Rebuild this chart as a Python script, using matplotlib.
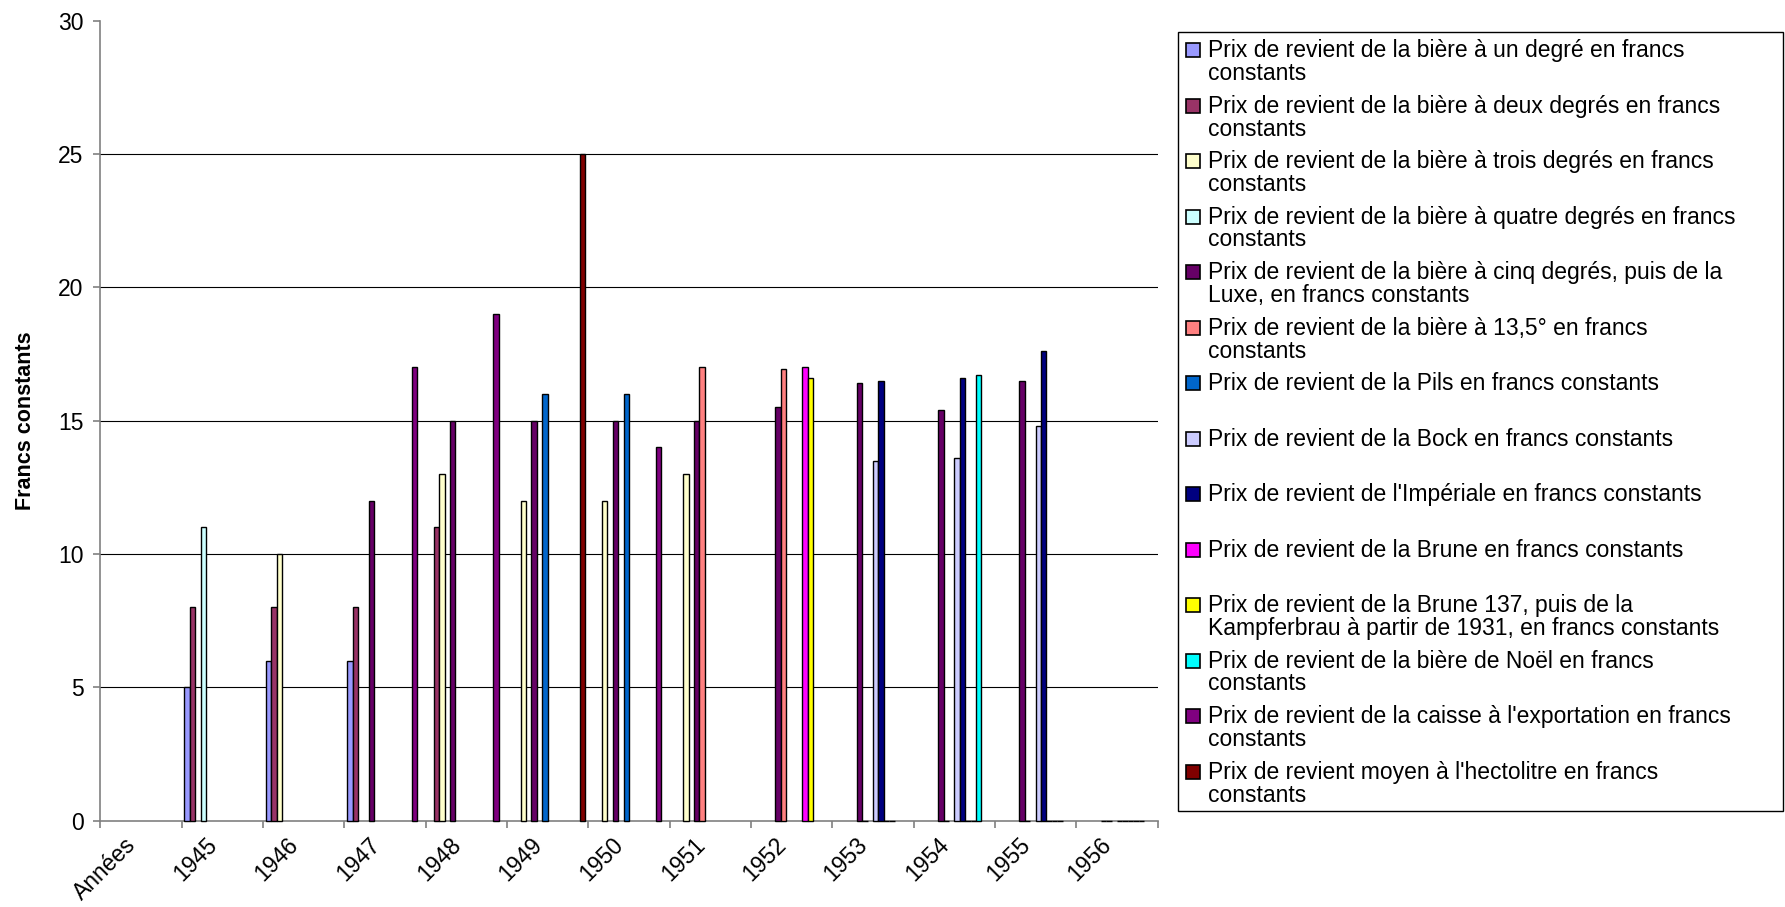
import numpy as np
import matplotlib.pyplot as plt
from matplotlib.patches import Rectangle
from matplotlib.transforms import ScaledTranslation

plt.rcParams['font.family'] = ['Liberation Sans', 'DejaVu Sans']

nan = np.nan
annees = ['Années', '1945', '1946', '1947', '1948', '1949', '1950',
          '1951', '1952', '1953', '1954', '1955', '1956']

# prix de revient en francs constants, une liste par série (nan = pas de valeur)
un_degre     = [nan, 5, 6, 6, nan, nan, nan, nan, nan, nan, nan, nan, nan]
deux_degres  = [nan, 8, 8, 8, 11, nan, nan, nan, nan, nan, nan, nan, nan]
trois_degres = [nan, nan, 10, nan, 13, 12, 12, 13, nan, nan, nan, nan, nan]
quatre_degres = [nan, 11, nan, nan, nan, nan, nan, nan, nan, nan, nan, nan, nan]
cinq_degres  = [nan, nan, nan, 12, 15, 15, 15, 15, 15.5, 16.4, 15.4, 16.5, 0]
treize_cinq  = [nan, nan, nan, nan, nan, nan, nan, 17, 16.95, 0, 0, 0, 0]
pils         = [nan, nan, nan, nan, nan, 16, 16, nan, nan, nan, nan, nan, nan]
bock         = [nan, nan, nan, nan, nan, nan, nan, nan, nan, 13.5, 13.6, 14.8, 0]
imperiale    = [nan, nan, nan, nan, nan, nan, nan, nan, nan, 16.5, 16.6, 17.6, 0]
brune        = [nan, nan, nan, nan, nan, nan, nan, nan, 17.0, 0, 0, 0, 0]
brune_137    = [nan, nan, nan, nan, nan, nan, nan, nan, 16.6, 0, 0, 0, 0]
noel         = [nan, nan, nan, nan, nan, nan, nan, nan, nan, nan, 16.7, 0, 0]
exportation  = [nan, nan, nan, 17, 19, nan, 14, nan, nan, nan, nan, nan, nan]
hectolitre   = [nan, nan, nan, nan, nan, 25, nan, nan, nan, nan, nan, nan, nan]

series = [un_degre, deux_degres, trois_degres, quatre_degres, cinq_degres,
          treize_cinq, pils, bock, imperiale, brune, brune_137, noel,
          exportation, hectolitre]

labels = [
    "Prix de revient de la bière à un degré en francs\nconstants",
    "Prix de revient de la bière à deux degrés en francs\nconstants",
    "Prix de revient de la bière à trois degrés en francs\nconstants",
    "Prix de revient de la bière à quatre degrés en francs\nconstants",
    "Prix de revient de la bière à cinq degrés, puis de la\nLuxe, en francs constants",
    "Prix de revient de la bière à 13,5° en francs\nconstants",
    "Prix de revient de la Pils en francs constants",
    "Prix de revient de la Bock en francs constants",
    "Prix de revient de l'Impériale en francs constants",
    "Prix de revient de la Brune en francs constants",
    "Prix de revient de la Brune 137, puis de la\nKampferbrau à partir de 1931, en francs constants",
    "Prix de revient de la bière de Noël en francs\nconstants",
    "Prix de revient de la caisse à l'exportation en francs\nconstants",
    "Prix de revient moyen à l'hectolitre en francs\nconstants",
]

colors = ['#9999FF', '#993366', '#FFFFCC', '#CCFFFF', '#660066', '#FF8080',
          '#0066CC', '#CCCCFF', '#000080', '#FF00FF', '#FFFF00', '#00FFFF',
          '#800080', '#800000']

W, H = 1785, 907
fig = plt.figure(figsize=(W / 100, H / 100), dpi=100)
ax = fig.add_axes([100.2 / W, 1 - 820.8 / H, 1057.5 / W, 800.3 / H])

n = len(series)
gap = 1.065
w = 1 / (n + gap)
x = np.arange(len(annees))
for j, vals in enumerate(series):
    ax.bar(x + (j - (n - 1) / 2) * w, vals, width=w, color=colors[j],
           edgecolor='black', linewidth=1.0, zorder=3, clip_on=False)

yticks = np.arange(0, 31, 5)
ax.set_ylim(0, 30)
ax.set_yticks(yticks)
for v in yticks[1:-1]:
    ax.axhline(v, color='black', lw=0.8, zorder=1)

ax.set_xlim(-0.5, len(annees) - 0.5)
ax.set_xticks(np.arange(len(annees) + 1) - 0.5)
ax.set_xticklabels([])
ax.set_xticks(x, annees, minor=True, rotation=45, ha='right', va='top',
              rotation_mode='anchor', fontsize=16.5)
ax.tick_params(axis='x', which='minor', length=0, pad=9)
ax.tick_params(axis='x', which='major', length=5, color='#808080', width=1.2)
ax.tick_params(axis='y', length=5, color='#808080', width=1.2, pad=7, labelsize=16.5)
shift = ScaledTranslation(-17 / 100, 0, fig.dpi_scale_trans)
for lab in ax.get_xticklabels(minor=True):
    lab.set_transform(lab.get_transform() + shift)

for side in ['top', 'right']:
    ax.spines[side].set_visible(False)
for side in ['left', 'bottom']:
    ax.spines[side].set_color('#808080')
    ax.spines[side].set_linewidth(1.2)

fig.text(25.7 / W, 1 - 420.6 / H, 'Francs constants', rotation=90,
         fontweight='bold', fontsize=15.5, ha='center', va='center')

# légende dessinée à la main : une case par série, espacement régulier
fig.patches.append(Rectangle((1177.7 / W, 1 - 810.5 / H), 605 / W, 778.8 / H,
                             transform=fig.transFigure, facecolor='white',
                             edgecolor='black', lw=1.0))
for k, (lab, col) in enumerate(zip(labels, colors)):
    base = 57.3 + 55.5 * k
    fig.patches.append(Rectangle((1186 / W, 1 - base / H), 14 / W, 14 / H,
                                 transform=fig.transFigure, facecolor=col,
                                 edgecolor='black', lw=1.2))
    for i, line in enumerate(lab.split('\n')):
        fig.text(1208 / W, 1 - (base + 22.7 * i) / H, line, fontsize=16.5,
                 ha='left', va='baseline')

fig.savefig('out.png', dpi=100)
